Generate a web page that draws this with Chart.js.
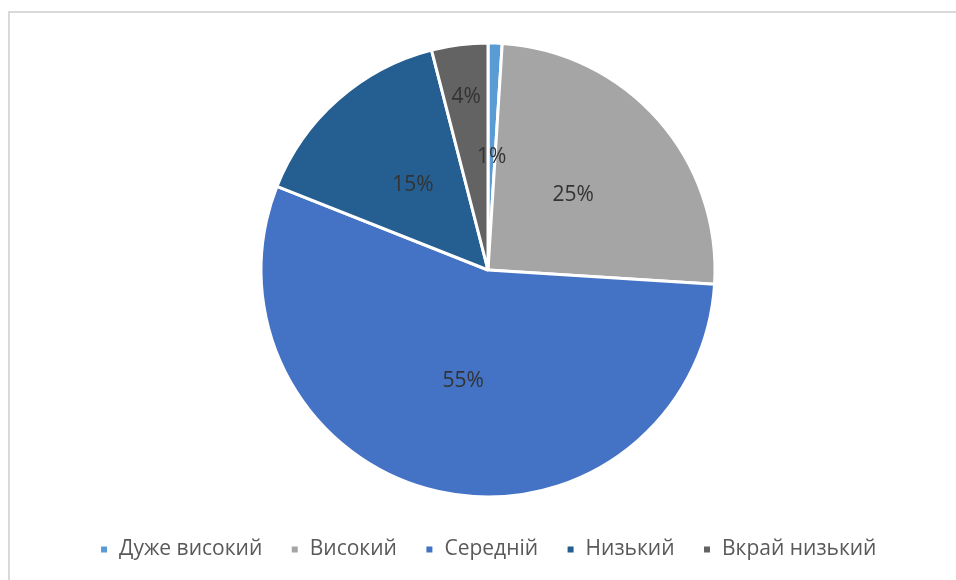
<!DOCTYPE html>
<html>
<head>
<meta charset="utf-8">
<script src="https://cdn.jsdelivr.net/npm/chart.js@4/dist/chart.umd.min.js"></script>
<style>
  html, body { margin: 0; padding: 0; background: #fff; }
  #wrap { position: relative; width: 956px; height: 580px; }
  #frame {
    position: absolute; left: 8px; top: 11px; right: 0; bottom: 0;
    border-top: 2px solid #d9d9d9; border-left: 2px solid #d9d9d9;
  }
  #pie { position: absolute; left: 0; top: 0; }
</style>
</head>
<body>
<div id="wrap">
  <div id="frame"></div>
  <canvas id="pie" width="956" height="580"></canvas>
</div>
<script>
const levels = ['Дуже високий', 'Високий', 'Середній', 'Низький', 'Вкрай низький'];
const shares = [1, 25, 55, 15, 4];
const sliceColors = ['#5b9bd5', '#a5a5a5', '#4472c4', '#255e91', '#636363'];
// how far out from the centre each percent label sits (fraction of radius)
const labelRadius = [0.5, 0.5, 0.5, 0.5, 0.77];

const pctLabels = {
    id: 'pctLabels',
    afterDatasetsDraw(chart) {
        const ctx = chart.ctx;
        const meta = chart.getDatasetMeta(0);
        ctx.save();
        ctx.font = '21px "Open Sans", sans-serif';
        ctx.fillStyle = '#333333';
        ctx.textAlign = 'center';
        ctx.textBaseline = 'middle';
        meta.data.forEach((arc, i) => {
            const p = arc.getProps(['x', 'y', 'startAngle', 'endAngle', 'outerRadius'], true);
            const mid = (p.startAngle + p.endAngle) / 2;
            const r = p.outerRadius * labelRadius[i];
            ctx.fillText(shares[i] + '%', p.x + Math.cos(mid) * r, p.y + Math.sin(mid) * r);
        });
        ctx.restore();
    }
};

new Chart(document.getElementById('pie'), {
    type: 'pie',
    data: {
        labels: levels,
        datasets: [{
            data: shares,
            backgroundColor: sliceColors,
            borderColor: '#ffffff',
            borderWidth: 3,
            radius: 227
        }]
    },
    options: {
        responsive: false,
        animation: false,
        layout: { padding: { top: 29, bottom: 10, left: 20, right: 0 } },
        plugins: {
            tooltip: { enabled: false },
            legend: {
                position: 'bottom',
                labels: {
                    boxWidth: 9,
                    boxHeight: 9,
                    padding: 28,
                    color: '#595959',
                    font: { family: '"Open Sans", sans-serif', size: 21 }
                }
            }
        }
    },
    plugins: [pctLabels]
});
</script>
</body>
</html>
